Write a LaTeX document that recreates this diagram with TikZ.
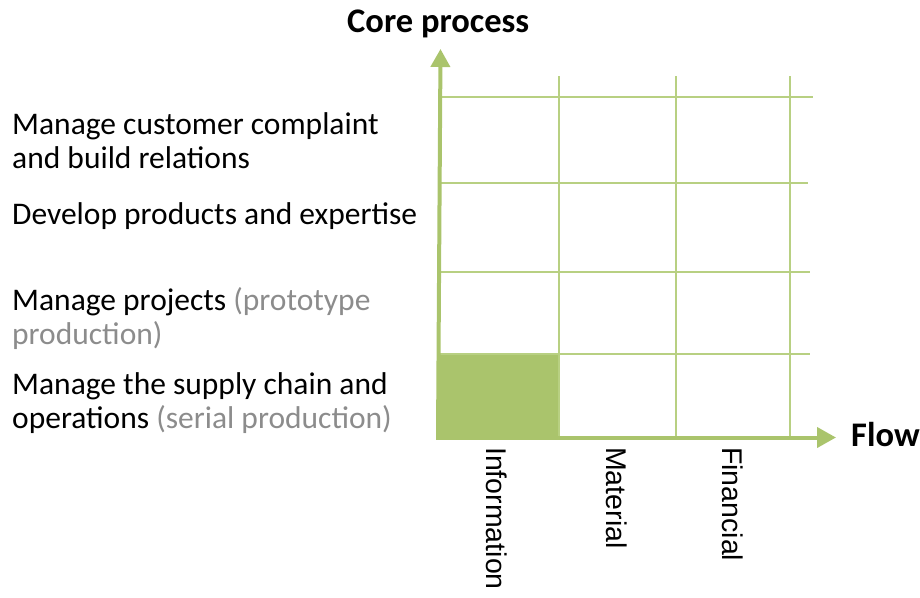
\documentclass[tikz,border=0pt]{standalone}
\usepackage{fontspec}
\setmainfont{Carlito}
\newfontfamily\labelfont{Liberation Sans}
\usetikzlibrary{arrows.meta}

\definecolor{axisgreen}{RGB}{170,196,108}
\definecolor{gridgreen}{RGB}{184,208,130}
\definecolor{softgray}{RGB}{140,140,140}

\tikzset{
  axis/.style={draw=axisgreen, line width=4pt},
  gridline/.style={draw=gridgreen, line width=1.3pt},
  rowtext/.style={anchor=base west, inner sep=0pt, font=\fontsize{31.5}{34}\selectfont},
  axistitle/.style={anchor=base west, inner sep=0pt, font=\fontsize{34.5}{36}\selectfont\bfseries},
  coltext/.style={anchor=base west, inner sep=0pt, rotate=-90,
    font=\labelfont\fontsize{28.5}{30}\selectfont},
}

\begin{document}
\begin{tikzpicture}[x=1pt, y=-1pt]
  \useasboundingbox (0,0) rectangle (920,597);

  % highlighted cell
  \fill[axisgreen] (438,354) rectangle (559,437);

  % grid
  \draw[gridline] (440,97) -- (813,97);
  \draw[gridline] (440,183) -- (808,183);
  \draw[gridline] (440,272) -- (810,272);
  \draw[gridline] (440,354) -- (810,354);
  \draw[gridline] (559,76) -- (559,437);
  \draw[gridline] (676,76) -- (676,437);
  \draw[gridline] (790,76) -- (790,437);

  % axes
  \coordinate (origin) at (438,437.5);
  \coordinate (ytip) at (440.5,49);
  \coordinate (xtip) at (836,437.5);
  \draw[axis, -{Triangle[length=18pt, width=19pt]}] (origin) -- (ytip);
  \draw[axis, -{Triangle[length=19pt, width=20pt]}] (436,437.5) -- (xtip);

  % axis titles
  \node[axistitle] (ytitle) at (347,32) {Core process};
  \node[axistitle] (xtitle) at (851,446) {Flow};

  % row labels
  \node[rowtext] (r1a) at (12,134) {Manage customer complaint};
  \node[rowtext] (r1b) at (12,168) {and build relations};
  \node[rowtext] (r2) at (12,224) {Develop products and expertise};
  \node[rowtext] (r3a) at (12,310) {Manage projects \textcolor{softgray}{(prototype}};
  \node[rowtext] (r3b) at (12,344) {\textcolor{softgray}{production)}};
  \node[rowtext] (r4a) at (12,394) {Manage the supply chain and};
  \node[rowtext] (r4b) at (12,428) {operations \textcolor{softgray}{(serial production)}};

  % column labels
  \node[coltext] (c1) at (486,447) {Information};
  \node[coltext] (c2) at (606,447) {Material};
  \node[coltext] (c3) at (722,447) {Financial};
\end{tikzpicture}
\end{document}
